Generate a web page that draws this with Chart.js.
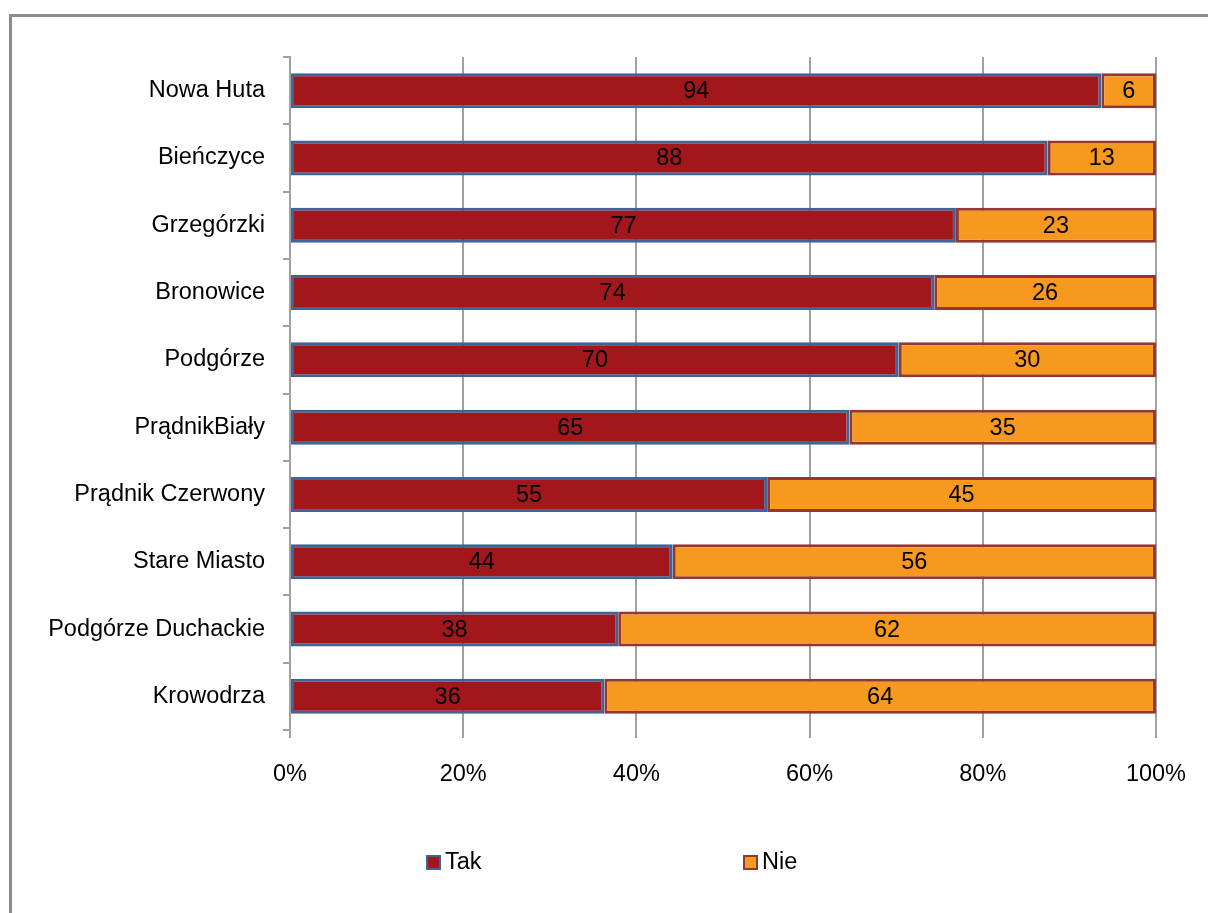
<!DOCTYPE html>
<html>
<head>
<meta charset="utf-8">
<script src="https://cdn.jsdelivr.net/npm/chart.js@4/dist/chart.umd.min.js"></script>
<style>
  html, body { margin: 0; padding: 0; background: #fff; overflow: hidden; }
  #wrap { position: relative; width: 1208px; height: 913px; }
</style>
</head>
<body>
<div id="wrap"><canvas id="chart" width="1208" height="913"></canvas></div>
<script>
const districts = ["Nowa Huta", "Bieńczyce", "Grzegórzki", "Bronowice", "Podgórze",
    "PrądnikBiały", "Prądnik Czerwony", "Stare Miasto", "Podgórze Duchackie", "Krowodrza"];
const takValues = [93.7, 87.5, 76.9, 74.4, 70.3, 64.6, 55.1, 44.2, 37.9, 36.3];
const nieValues = [6.3, 12.5, 23.1, 25.6, 29.7, 35.4, 44.9, 55.8, 62.1, 63.7];
const seriesNames = ["Tak", "Nie"];
const xTicks = [0, 20, 40, 60, 80, 100];

const FONT = "'Liberation Sans', Arial, sans-serif";
const FSIZE = 23.5;

// outer frame (left + top edge only visible)
const framePlugin = {
    id: 'frame',
    beforeDraw(chart) {
        const c = chart.ctx;
        c.save();
        c.strokeStyle = '#8c8c8c';
        c.lineWidth = 3;
        c.beginPath();
        c.moveTo(10.5, 913);
        c.lineTo(10.5, 15.5);
        c.lineTo(1208, 15.5);
        c.stroke();
        c.restore();
    }
};

// value labels in the middle of each segment
const valueLabels = {
    id: 'valueLabels',
    afterDatasetsDraw(chart) {
        const c = chart.ctx;
        c.save();
        c.font = FSIZE + 'px ' + FONT;
        c.fillStyle = '#000';
        c.textAlign = 'center';
        c.textBaseline = 'middle';
        chart.data.datasets.forEach((ds, i) => {
            chart.getDatasetMeta(i).data.forEach((bar, j) => {
                const p = bar.getCenterPoint();
                c.fillText(Math.round(ds.data[j]), p.x, p.y + 1);
            });
        });
        c.restore();
    }
};

// legend at the bottom, spread out like the original
const legendX = [427, 744];
const bottomLegend = {
    id: 'bottomLegend',
    afterDraw(chart) {
        const c = chart.ctx;
        c.save();
        c.font = FSIZE + 'px ' + FONT;
        c.textBaseline = 'middle';
        chart.data.datasets.forEach((ds, i) => {
            const x = legendX[i], y = 863;
            c.fillStyle = ds.backgroundColor;
            c.fillRect(x, y - 7, 13, 13);
            c.strokeStyle = ds.borderColor;
            c.lineWidth = 2;
            c.strokeRect(x, y - 7, 13, 13);
            c.fillStyle = '#000';
            c.fillText(ds.label, x + 18, y);
        });
        c.restore();
    }
};

new Chart(document.getElementById('chart'), {
    type: 'bar',
    data: {
        labels: districts,
        datasets: [{
            label: seriesNames[0],
            data: takValues,
            backgroundColor: '#a1171c',
            borderColor: '#3f6497',
            borderWidth: 3,
            borderSkipped: false
        }, {
            label: seriesNames[1],
            data: nieValues,
            backgroundColor: '#f7991f',
            borderColor: '#943634',
            borderWidth: 3,
            borderSkipped: false
        }]
    },
    options: {
        indexAxis: 'y',
        responsive: false,
        animation: false,
        layout: { padding: { top: 57, right: 52, left: 0, bottom: 123 } },
        datasets: { bar: { barPercentage: 0.52, categoryPercentage: 1 } },
        scales: {
            x: {
                stacked: true,
                min: 0,
                max: 100,
                afterFit(s) { s.height = 60; },
                afterBuildTicks(s) { s.ticks = xTicks.map(v => ({ value: v })); },
                ticks: {
                    callback: v => v + '%',
                    color: '#000',
                    padding: 22,
                    font: { size: FSIZE, family: FONT }
                },
                grid: { color: '#a0a0a0', lineWidth: 2, tickLength: 8 },
                border: { display: false }
            },
            y: {
                stacked: true,
                afterFit(s) { s.width = 290; },
                ticks: {
                    color: '#000',
                    padding: 18,
                    font: { size: FSIZE, family: FONT }
                },
                grid: { drawOnChartArea: false, color: '#a0a0a0', lineWidth: 2, tickLength: 7 },
                border: { display: true, color: '#a0a0a0', width: 2 }
            }
        },
        plugins: {
            legend: { display: false },
            tooltip: { enabled: false }
        }
    },
    plugins: [framePlugin, valueLabels, bottomLegend]
});
</script>
</body>
</html>
